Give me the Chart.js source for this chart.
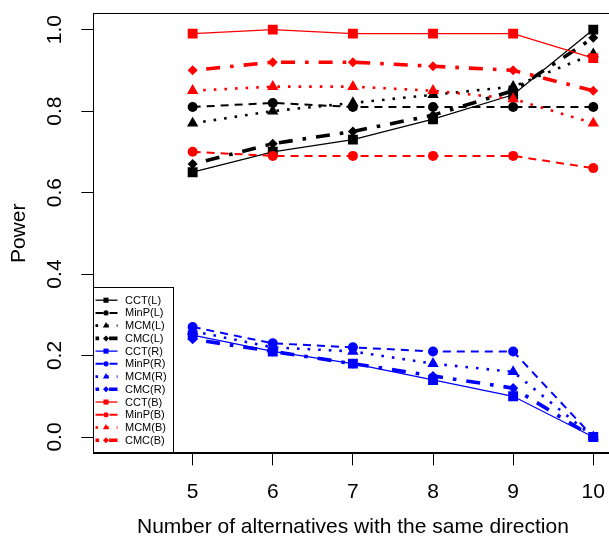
<!DOCTYPE html>
<html>
<head>
<meta charset="utf-8">
<script src="https://cdn.jsdelivr.net/npm/chart.js"></script>
<style>
html, body { margin: 0; padding: 0; overflow: hidden; background: #fff; }
#wrap { position: relative; width: 613px; height: 537px; }
</style>
</head>
<body>
<div id="wrap"><canvas id="powerChartID"></canvas></div>
<script>
// x values and tick labels
var alternatives = [5, 6, 7, 8, 9, 10];
var x_ticks = [5, 6, 7, 8, 9, 10];
var y_ticks = [0, 0.2, 0.4, 0.6, 0.8, 1.0];

// power, left group (black)
var cct_l  = [0.65, 0.70, 0.73, 0.78, 0.84, 1.00];
var minp_l = [0.81, 0.82, 0.81, 0.81, 0.81, 0.81];
var mcm_l  = [0.77, 0.80, 0.82, 0.84, 0.86, 0.94];
var cmc_l  = [0.67, 0.72, 0.75, 0.79, 0.85, 0.98];

// power, right group (blue)
var cct_r  = [0.25, 0.21, 0.18, 0.14, 0.10, 0.00];
var minp_r = [0.27, 0.23, 0.22, 0.21, 0.21, 0.00];
var mcm_r  = [0.26, 0.22, 0.21, 0.18, 0.16, 0.00];
var cmc_r  = [0.24, 0.21, 0.18, 0.15, 0.12, 0.00];

// power, both group (red)
var cct_b  = [0.99, 1.00, 0.99, 0.99, 0.99, 0.93];
var minp_b = [0.70, 0.69, 0.69, 0.69, 0.69, 0.66];
var mcm_b  = [0.85, 0.86, 0.86, 0.85, 0.83, 0.77];
var cmc_b  = [0.90, 0.92, 0.92, 0.91, 0.90, 0.85];

var series_labels = ['CCT(L)', 'MinP(L)', 'MCM(L)', 'CMC(L)',
                     'CCT(R)', 'MinP(R)', 'MCM(R)', 'CMC(R)',
                     'CCT(B)', 'MinP(B)', 'MCM(B)', 'CMC(B)'];
var series_values = [cct_l, minp_l, mcm_l, cmc_l,
                     cct_r, minp_r, mcm_r, cmc_r,
                     cct_b, minp_b, mcm_b, cmc_b];

// styles per method (CCT, MinP, MCM, CMC) and per group
var method_styles = [
    {point: 'rect',     radius: 7,   legend_radius: 3.6, width: 1.3, dash: []},
    {point: 'circle',   radius: 5,   legend_radius: 2.6, width: 2,   dash: [8, 6]},
    {point: 'triangle', radius: 6.6, legend_radius: 3.6, width: 2.6, dash: [2.6, 8]},
    {point: 'rectRot',  radius: 5,   legend_radius: 3,   width: 3.6, dash: [3.6, 10, 14, 10]}
];
var group_colors = ['#000000', '#0000ff', '#ff0000'];

var font_family = "'Liberation Sans', Arial, Helvetica, sans-serif";
Chart.defaults.font.family = font_family;
Chart.defaults.color = '#000';

var power_datasets = [];
for (var i = 0; i < series_values.length; i++) {
    var st = method_styles[i % 4];
    var col = group_colors[Math.floor(i / 4)];
    var pts = [];
    for (var j = 0; j < alternatives.length; j++) {
        pts.push({x: alternatives[j], y: series_values[i][j]});
    }
    power_datasets.push({
        label: series_labels[i],
        data: pts,
        borderColor: col,
        backgroundColor: col,
        borderWidth: st.width,
        borderDash: st.dash,
        fill: false,
        tension: 0,
        pointStyle: st.point,
        pointRadius: st.radius,
        pointHoverRadius: st.radius,
        pointBackgroundColor: col,
        pointBorderColor: col,
        pointBorderWidth: 0,
        legend_radius: st.legend_radius,
        order: -i
    });
}

function draw_marker(ctx, style, x, y, r) {
    ctx.beginPath();
    if (style == 'rect') {
        var s = r * Math.SQRT1_2;
        ctx.rect(x - s, y - s, 2 * s, 2 * s);
    } else if (style == 'circle') {
        ctx.arc(x, y, r, 0, Math.PI * 2);
    } else if (style == 'triangle') {
        ctx.moveTo(x, y - r);
        ctx.lineTo(x + r * 0.866, y + r * 0.5);
        ctx.lineTo(x - r * 0.866, y + r * 0.5);
    } else {
        ctx.moveTo(x - r, y);
        ctx.lineTo(x, y - r);
        ctx.lineTo(x + r, y);
        ctx.lineTo(x, y + r);
    }
    ctx.closePath();
    ctx.fill();
}

// frame round the plot region, like R's box()
var box_plugin = {
    id: 'plotBox',
    afterDatasetsDraw: function(chart) {
        var a = chart.chartArea;
        var ctx = chart.ctx;
        ctx.save();
        ctx.strokeStyle = '#000';
        ctx.lineWidth = 1;
        ctx.strokeRect(Math.round(a.left) + 0.5, Math.round(a.top) + 0.5,
                       Math.round(a.right - a.left), Math.round(a.bottom - a.top) - 1);
        ctx.restore();
    }
};

// legend in the bottom left corner of the plot
var corner_legend = {
    id: 'cornerLegend',
    afterDraw: function(chart) {
        var a = chart.chartArea;
        var ctx = chart.ctx;
        var left = Math.round(a.left) + 0.5;
        var bottom = Math.round(a.bottom) - 0.5;
        var top = bottom - 165;
        var right = left + 80;
        ctx.save();
        ctx.fillStyle = '#fff';
        ctx.fillRect(left, top, right - left, bottom - top);
        ctx.strokeStyle = '#000';
        ctx.lineWidth = 1;
        ctx.strokeRect(left, top, right - left, bottom - top);
        ctx.font = '11px ' + font_family;
        ctx.textBaseline = 'middle';
        ctx.textAlign = 'left';
        var ds = chart.data.datasets;
        for (var i = 0; i < ds.length; i++) {
            var y = top + 12.7 + i * 12.73;
            ctx.strokeStyle = ds[i].borderColor;
            ctx.fillStyle = ds[i].borderColor;
            ctx.lineWidth = ds[i].borderWidth;
            ctx.setLineDash(ds[i].borderDash);
            ctx.beginPath();
            ctx.moveTo(left + 2, y);
            ctx.lineTo(left + 24, y);
            ctx.stroke();
            ctx.setLineDash([]);
            draw_marker(ctx, ds[i].pointStyle, left + 12.5, y, ds[i].legend_radius);
            ctx.fillStyle = '#000';
            ctx.fillText(ds[i].label, left + 31.5, y + 0.5);
        }
        ctx.restore();
    }
};

var power_chart_config = {
    type: 'line',
    data: { datasets: power_datasets },
    options: {
        responsive: true,
        maintainAspectRatio: false,
        animation: false,
        layout: {
            autoPadding: false,
            padding: {top: 13.3, right: 0.5, left: 0, bottom: 0}
        },
        plugins: {
            legend: { display: false },
            tooltip: { enabled: false }
        },
        scales: {
            x: {
                type: 'linear',
                min: 3.76,
                max: 10.24,
                afterBuildTicks: function(s) {
                    s.ticks = x_ticks.map(function(v) { return {value: v}; });
                },
                afterFit: function(s) {
                    s.height = 83.7;
                    s.paddingLeft = 0;
                    s.paddingRight = 0;
                },
                border: { display: true, color: '#000', width: 1 },
                grid: { drawOnChartArea: false, drawTicks: true, tickLength: 12, color: '#000', lineWidth: 1 },
                ticks: {
                    autoSkip: false,
                    maxRotation: 0,
                    padding: 14.6,
                    font: { size: 21 },
                    color: '#000',
                    callback: function(v) { return String(v); }
                },
                title: {
                    display: true,
                    text: 'Number of alternatives with the same direction',
                    font: { size: 21, lineHeight: 0.9 },
                    padding: {top: 0, bottom: 0},
                    color: '#000'
                }
            },
            y: {
                type: 'linear',
                min: -0.04,
                max: 1.04,
                afterBuildTicks: function(s) {
                    s.ticks = y_ticks.map(function(v) { return {value: v}; });
                },
                afterFit: function(s) {
                    s.width = 93.3;
                    s.paddingTop = 0;
                    s.paddingBottom = 0;
                },
                border: { display: true, color: '#000', width: 1 },
                grid: { drawOnChartArea: false, drawTicks: true, tickLength: 12, color: '#000', lineWidth: 1 },
                ticks: {
                    autoSkip: false,
                    minRotation: 90,
                    maxRotation: 90,
                    crossAlign: 'center',
                    padding: 11.2,
                    font: { size: 21 },
                    color: '#000',
                    callback: function(v) { return Number(v).toFixed(1); }
                },
                title: {
                    display: true,
                    text: 'Power',
                    font: { size: 21 },
                    padding: {top: 6.4, bottom: 0},
                    color: '#000'
                }
            }
        }
    },
    plugins: [box_plugin, corner_legend]
};

var myContext = document.getElementById('powerChartID');
var myChart = new Chart(myContext, power_chart_config);
</script>
</body>
</html>
